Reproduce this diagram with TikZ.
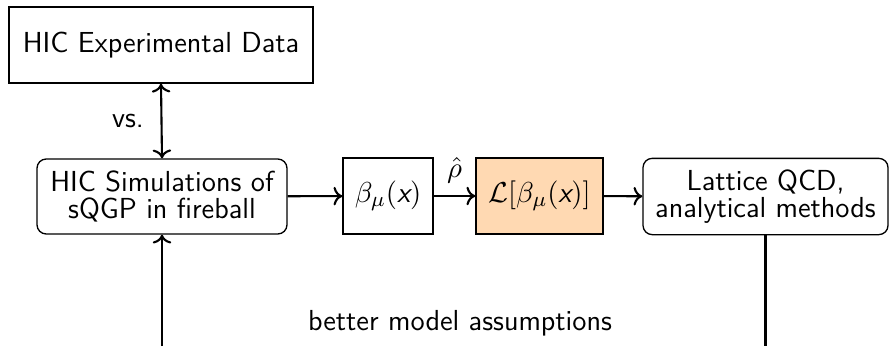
\documentclass[tikz,border=0pt]{standalone}
\usetikzlibrary{arrows.meta}
\begin{document}
\begin{tikzpicture}[x=0.38pt,y=-0.38pt,
  font=\fontsize{11}{13}\sffamily,
  plainbox/.style={draw,line width=0.5pt,inner sep=0pt,align=center,minimum height=28.9pt},
  roundbox/.style={plainbox,rounded corners=3.5pt},
  conn/.style={line width=0.8pt,-To},
  ]
\useasboundingbox (0,0) rectangle (889,346);
\node[plainbox,minimum width=115.5pt] (exp) at (161,45) {HIC Experimental Data};
\node[roundbox,minimum width=95pt,minimum height=28.5pt] (sim) at (162,196.5) {HIC Simulations of\\[-3pt]sQGP in fireball};
\node[plainbox,minimum width=34.2pt] (beta) at (388,196) {$\beta_\mu(\textit{x})$};
\node[plainbox,minimum width=48.3pt,fill=orange!30] (lag) at (539.5,196) {$\mathcal{L}[\beta_\mu(\textit{x})]$};
\node[roundbox,minimum width=93.1pt,minimum height=29pt] (lat) at (765.5,196.5) {Lattice QCD,\\[-3pt]analytical methods};
\coordinate (simbot) at (sim.south |- 0,346);
\coordinate (latbot) at (lat.south |- 0,346);
\draw[line width=0.8pt,{To}-{To}] (exp.south) -- node[left=3pt] (vs) {vs.} (sim.north);
\draw[conn] (sim) -- (beta);
\draw[conn] (beta) -- node[above=1pt] (rho) {$\hat\rho$} (lag);
\draw[conn] (lag) -- (lat);
\draw[conn] (simbot) -- (sim.south);
\draw[line width=0.8pt] (lat.south) -- (latbot);
\node (better) at (460,323) {better model assumptions};
\end{tikzpicture}
\end{document}
